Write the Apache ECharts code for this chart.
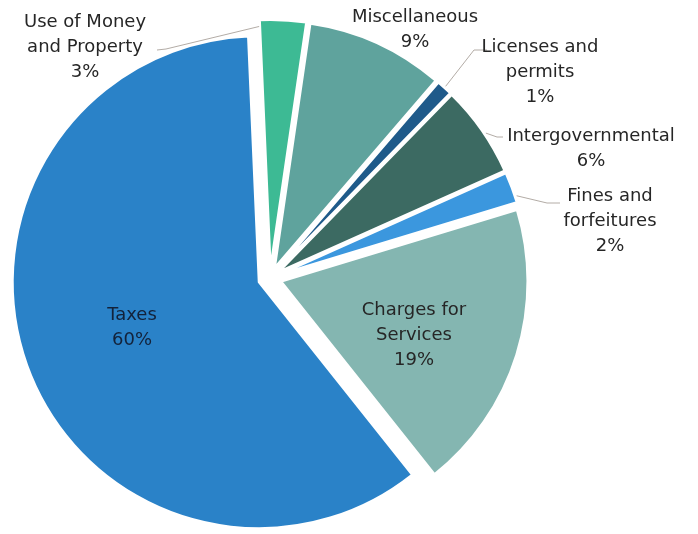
<!DOCTYPE html>
<html>
<head>
<meta charset="utf-8">
<script src="https://cdn.jsdelivr.net/npm/echarts@6/dist/echarts.min.js"></script>
<style>
  html, body { margin: 0; padding: 0; background: #ffffff; }
  #chart { width: 698px; height: 534px; }
</style>
</head>
<body>
<div id="chart"></div>
<script>
// Revenue sources and their share of the total (percent)
const categories = [
  'Use of Money\nand Property',
  'Miscellaneous',
  'Licenses and\npermits',
  'Intergovernmental',
  'Fines and\nforfeitures',
  'Charges for\nServices',
  'Taxes'
];
const shares = [3, 9, 1, 6, 2, 19, 60];
const sliceColors = ['#3dba94', '#5fa39d', '#1f5a8a', '#3c6a62', '#3b97de', '#84b6b1', '#2a82c8'];

// Pie geometry
const CENTER = [270, 278];
const RADIUS = 246;
const START_ANGLE = 92.5;   // echarts convention: degrees counter-clockwise from 3 o'clock
const EXPLODE = 12;         // every slice is pulled out by this many pixels

// Label block centres
const labelSpots = [[85, 47], [415, 30], [540, 72], [591, 149], [610, 221], [414, 335], [132, 328]];
// Where along its rim (0..1 of the slice's arc) each leader starts; null = no leader
const leaderAnchor = [0, null, 0.5, 0.55, 0.8, null, null];
// Radial nudge of each leader's start relative to the rim
const leaderReach = [-6, 0, 2, 2, 2, 0, 0];
// Elbow and end of each leader line
const leaderBends = [[[166, 49], [157, 50]], null, [[474, 50], [487, 50]], [[497, 137], [503, 137]], [[547, 203], [560, 203]], null, null];

const FONT = '"DejaVu Sans", sans-serif';
const TEXT_COLOR = '#262626';

// Point on the rim of slice i (slice is already pulled out along its bisector)
function rimPoint(i, frac, extra) {
  const total = shares.reduce((a, b) => a + b, 0);
  let before = 0;
  for (let k = 0; k < i; k++) before += shares[k];
  const startCw = 90 - START_ANGLE;  // clockwise from 12 o'clock
  const a0 = startCw + before / total * 360;
  const a1 = a0 + shares[i] / total * 360;
  const mid = (a0 + a1) / 2 * Math.PI / 180;
  const at = (a0 + (a1 - a0) * frac) * Math.PI / 180;
  const ox = CENTER[0] + EXPLODE * Math.sin(mid);
  const oy = CENTER[1] - EXPLODE * Math.cos(mid);
  const r = RADIUS + extra;
  return [ox + r * Math.sin(at), oy - r * Math.cos(at)];
}

const chart = echarts.init(document.getElementById('chart'), null, { renderer: 'canvas' });

// Visible, exploded slices
const sliceData = shares.map((v, i) => ({
  name: categories[i],
  value: v,
  selected: true,
  itemStyle: { color: sliceColors[i] }
}));

// Same values again, carrying only the text labels and leader lines
const labelData = shares.map((v, i) => ({
  name: categories[i],
  value: v,
  label: i === 6 ? { color: '#13223a' } : {},
  labelLine: { show: leaderAnchor[i] !== null }
}));

chart.setOption({
  animation: false,
  backgroundColor: '#ffffff',
  series: [
    {
      type: 'pie',
      center: CENTER,
      radius: RADIUS,
      startAngle: START_ANGLE,
      clockwise: true,
      selectedMode: 'multiple',
      selectedOffset: EXPLODE,
      emphasis: { disabled: true },
      silent: true,
      itemStyle: { borderColor: '#ffffff', borderWidth: 2 },
      select: { itemStyle: { borderColor: '#ffffff', borderWidth: 2 } },
      label: { show: false },
      labelLine: { show: false },
      data: sliceData
    },
    {
      type: 'pie',
      center: CENTER,
      radius: RADIUS,
      startAngle: START_ANGLE,
      clockwise: true,
      selectedMode: false,
      silent: true,
      emphasis: { disabled: true },
      avoidLabelOverlap: false,
      itemStyle: { color: 'rgba(0,0,0,0)', borderWidth: 0 },
      label: {
        show: true,
        position: 'outside',
        formatter: '{b}\n{d}%',
        fontFamily: FONT,
        fontSize: 18,
        lineHeight: 25,
        color: TEXT_COLOR,
        align: 'center'
      },
      labelLine: {
        show: true,
        lineStyle: { color: '#b3aca6', width: 1 }
      },
      labelLayout: function (params) {
        const i = params.dataIndex;
        const spot = labelSpots[i];
        const out = { x: spot[0], y: spot[1], align: 'center', verticalAlign: 'middle' };
        if (leaderAnchor[i] !== null) {
          out.labelLinePoints = [rimPoint(i, leaderAnchor[i], leaderReach[i]), leaderBends[i][0], leaderBends[i][1]];
        }
        return out;
      },
      data: labelData
    }
  ]
});
</script>
</body>
</html>
